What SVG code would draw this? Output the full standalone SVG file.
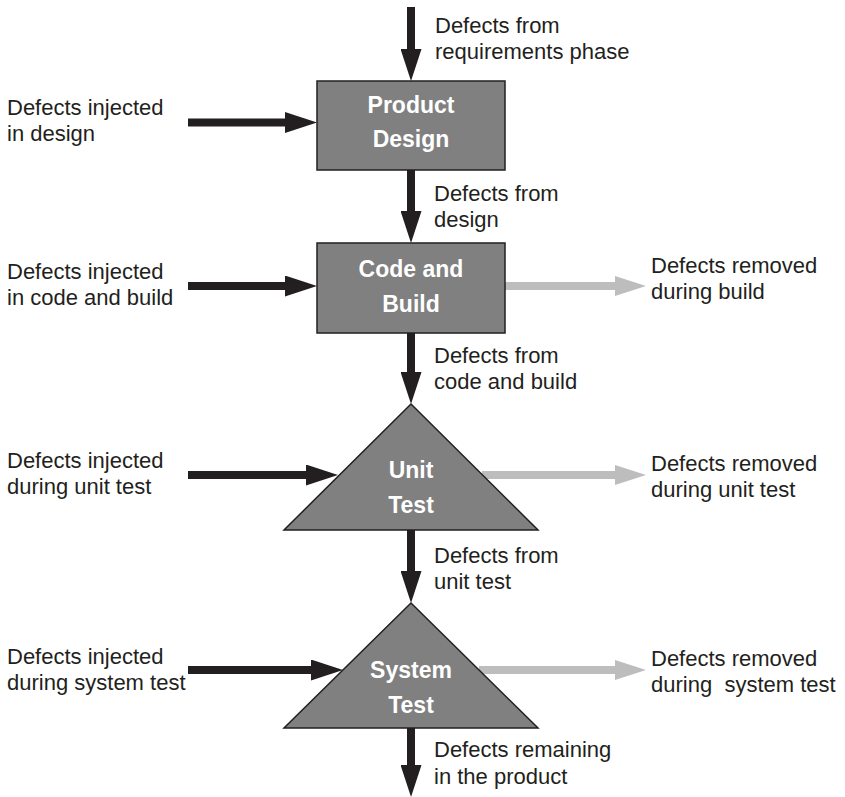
<svg xmlns="http://www.w3.org/2000/svg" width="845" height="797" viewBox="0 0 845 797">
  <style>
    .lbl { font-family: "Liberation Sans", Arial, sans-serif; font-size: 22px; fill: #231f20; }
    .node-txt { font-family: "Liberation Sans", Arial, sans-serif; font-size: 23px; font-weight: bold; fill: #ffffff; text-anchor: middle; }
    .node-shape { fill: #808080; stroke: #231f20; stroke-width: 1.5; }
    .flow { stroke: #231f20; stroke-width: 8; fill: none; marker-end: url(#head-dark); }
    .removed { stroke: #bdbdbd; stroke-width: 8; fill: none; marker-end: url(#head-light); }
  </style>
  <defs>
    <marker id="head-dark" markerUnits="userSpaceOnUse" viewBox="0 0 32 21" refX="0" refY="10.5" markerWidth="32" markerHeight="21" orient="auto">
      <path d="M0,0 L32,10.5 L0,21 z" fill="#231f20"/>
    </marker>
    <marker id="head-light" markerUnits="userSpaceOnUse" viewBox="0 0 31 20" refX="0" refY="10" markerWidth="31" markerHeight="20" orient="auto">
      <path d="M0,0 L31,10 L0,20 z" fill="#bdbdbd"/>
    </marker>
  </defs>

  <!-- connectors -->
  <g id="connectors">
    <!-- main vertical flow -->
    <line class="flow" x1="411" y1="7" x2="411" y2="49"/>
    <line class="flow" x1="411" y1="170" x2="411" y2="211"/>
    <line class="flow" x1="411" y1="333" x2="411" y2="372"/>
    <line class="flow" x1="411" y1="530" x2="411" y2="571"/>
    <line class="flow" x1="411" y1="728" x2="411" y2="765"/>
    <!-- injected defects -->
    <line class="flow" x1="188" y1="122.5" x2="285" y2="122.5"/>
    <line class="flow" x1="188" y1="286" x2="285" y2="286"/>
    <line class="flow" x1="188" y1="475" x2="306" y2="475"/>
    <line class="flow" x1="188" y1="670" x2="311" y2="670"/>
    <!-- removed defects -->
    <line class="removed" x1="505" y1="286" x2="615" y2="286"/>
    <line class="removed" x1="482" y1="475" x2="615" y2="475"/>
    <line class="removed" x1="479" y1="670" x2="615" y2="670"/>
  </g>

  <!-- phases -->
  <g id="product-design">
    <rect class="node-shape" x="317" y="81" width="188" height="89"/>
    <text class="node-txt" x="411" y="113">Product</text>
    <text class="node-txt" x="411" y="147">Design</text>
  </g>
  <g id="code-and-build">
    <rect class="node-shape" x="317" y="243" width="188" height="90"/>
    <text class="node-txt" x="411" y="277">Code and</text>
    <text class="node-txt" x="411" y="312">Build</text>
  </g>
  <g id="unit-test">
    <polygon class="node-shape" points="411,404 284,530 538,530"/>
    <text class="node-txt" x="411" y="478">Unit</text>
    <text class="node-txt" x="411" y="513">Test</text>
  </g>
  <g id="system-test">
    <polygon class="node-shape" points="411,603 284,728 538,728"/>
    <text class="node-txt" x="411" y="678">System</text>
    <text class="node-txt" x="411" y="713">Test</text>
  </g>

  <!-- flow labels -->
  <g id="labels">
    <text class="lbl" x="435" y="33">Defects from</text>
    <text class="lbl" x="435" y="59">requirements phase</text>

    <text class="lbl" x="7" y="115">Defects injected</text>
    <text class="lbl" x="7" y="141">in design</text>

    <text class="lbl" x="434" y="201">Defects from</text>
    <text class="lbl" x="434" y="227">design</text>

    <text class="lbl" x="7" y="279">Defects injected</text>
    <text class="lbl" x="7" y="305">in code and build</text>

    <text class="lbl" x="651" y="273">Defects removed</text>
    <text class="lbl" x="651" y="299">during build</text>

    <text class="lbl" x="434" y="363">Defects from</text>
    <text class="lbl" x="434" y="389">code and build</text>

    <text class="lbl" x="7" y="468">Defects injected</text>
    <text class="lbl" x="7" y="494">during unit test</text>

    <text class="lbl" x="651" y="471">Defects removed</text>
    <text class="lbl" x="651" y="497">during unit test</text>

    <text class="lbl" x="434" y="563">Defects from</text>
    <text class="lbl" x="434" y="589">unit test</text>

    <text class="lbl" x="7" y="664">Defects injected</text>
    <text class="lbl" x="7" y="690">during system test</text>

    <text class="lbl" x="651" y="666">Defects removed</text>
    <text class="lbl" x="651" y="692" xml:space="preserve">during  system test</text>

    <text class="lbl" x="434" y="757">Defects remaining</text>
    <text class="lbl" x="434" y="784">in the product</text>
  </g>
</svg>
